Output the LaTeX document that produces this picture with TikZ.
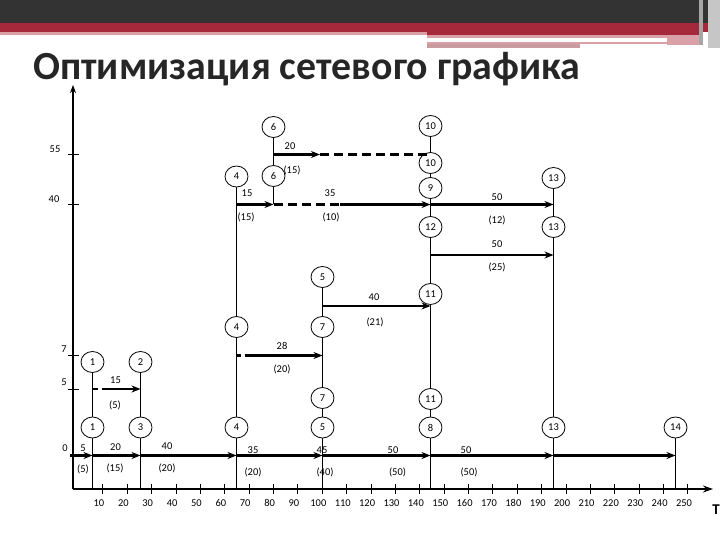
\documentclass[tikz,border=0pt]{standalone}
\usepackage{fontspec}
\setmainfont{Carlito}
\usetikzlibrary{arrows.meta,shapes.geometric}
\definecolor{hdark}{HTML}{333333}
\definecolor{hred}{HTML}{A5293A}
\definecolor{hpink}{HTML}{D9A0A7}
\definecolor{hpinkb}{HTML}{C99AA0}
\definecolor{titlec}{HTML}{262626}
\begin{document}
\begin{tikzpicture}[x=1bp,y=-1bp,
  ev/.style={draw, line width=0.8pt, ellipse, minimum width=23bp, minimum height=21bp, inner sep=0pt, font=\fontsize{10.5}{10.5}\selectfont},
  vline/.style={line width=1bp},
  act/.style={line width=2.6bp, -{Stealth[length=9bp,width=7bp]}},
  dsh/.style={line width=2.6bp, dash pattern=on 9bp off 5bp},
  lab/.style={font=\fontsize{10.5}{10.5}\selectfont, inner sep=0pt},
  tk/.style={line width=1bp}
]
\useasboundingbox (0,0) rectangle (720,540);
% header
\fill[white] (0,0) rectangle (720,540);
\fill[hdark] (0,0) rectangle (720,23);
\fill[hred] (0,23) rectangle (720,32);
\fill[hpink] (0,32) rectangle (427,35);
\fill[hred] (427,32) rectangle (703,35);
\fill[hpink] (427,35) rectangle (703,38);
\fill[hpink] (427,42) rectangle (667,44);
\fill[hpinkb] (427,44) rectangle (580,48);
\fill[hpink] (667,35) rectangle (703,45);
\fill[gray!70] (699,0) rectangle (703,45);
\fill[gray!45] (708,0) rectangle (720,48);
\node[anchor=base west, font=\fontsize{40}{40}\selectfont\bfseries, text=titlec, inner sep=0pt] (title) at (33,80) {Оптимизация сетевого графика};

% axes
\coordinate (o) at (73,489);
\coordinate (yt) at (73,85);
\coordinate (xt) at (713,489);
\draw[line width=2.7bp, -{Stealth[length=8bp,width=6bp]}] (o) -- (yt);
\draw[line width=1.8bp, -{Stealth[length=10bp,width=7bp]}] (o) -- (xt);
\node[font=\fontsize{15}{15}\selectfont\bfseries, inner sep=0pt] (T) at (716,510) {T};
\foreach \k in {1,...,25}{
  \pgfmathtruncatemacro{\v}{10*\k}
  \draw[tk] ({78.5+24.375*\k},484) -- ({78.5+24.375*\k},494);
  \node[lab] (tx\k) at ({74.6+24.375*\k},503) {\v};
}
\coordinate (y55) at (73,154.5);
\coordinate (y40) at (73,204.5);
\coordinate (y7) at (73,355.5);
\coordinate (y5) at (73,389);
\coordinate (y0) at (73,455.5);
\coordinate (y21) at (73,306);
\coordinate (y25) at (73,255);
\foreach \c in {y55,y40,y7,y5}{ \draw[tk] ([xshift=-5bp]\c) -- ([xshift=6bp]\c); }
\node[lab] (t55) at (55,149) {55};
\node[lab] (t40) at (54,199) {40};
\node[lab] (t7) at (64,349) {7};
\node[lab] (t5) at (64,382) {5};
\node[lab] (t0) at (65,448) {0};

% events
\node[ev] (n1a) at (92.5,362) {1};
\node[ev] (n2) at (140.5,362) {2};
\node[ev] (n1b) at (92.5,427.5) {1};
\node[ev] (n3) at (140.5,427.5) {3};
\node[ev] (n4a) at (236.5,176.5) {4};
\node[ev] (n4b) at (236.5,327) {4};
\node[ev] (n4c) at (236.5,427.5) {4};
\node[ev] (n6a) at (273.5,127) {6};
\node[ev] (n6b) at (273.5,176) {6};
\node[ev] (n5a) at (322.5,277) {5};
\node[ev] (n7a) at (322.5,327) {7};
\node[ev] (n7b) at (322.5,398) {7};
\node[ev] (n5b) at (322.5,427.5) {5};
\node[ev] (n10a) at (430.5,126) {10};
\node[ev] (n10b) at (430.5,163) {10};
\node[ev] (n9) at (430.5,188) {9};
\node[ev] (n12) at (430.5,227) {12};
\node[ev] (n11a) at (430.5,294) {11};
\node[ev] (n11b) at (430.5,399) {11};
\node[ev] (n8) at (430.5,427.5) {8};
\node[ev] (n13a) at (553.5,178) {13};
\node[ev] (n13b) at (553.5,227) {13};
\node[ev] (n13c) at (553.5,427.5) {13};
\node[ev] (n14) at (675.5,427.5) {14};

% columns
\draw[vline] (n1a) -- (n1b) -- (n1b |- o);
\draw[vline] (n2) -- (n3) -- (n3 |- o);
\draw[vline] (n4a) -- (n4b) -- (n4c) -- (n4c |- o);
\draw[vline] (n6a) -- (n6b) -- (n6b |- y40);
\draw[vline] (n5a) -- (n7a) -- (n7b) -- (n5b) -- (n5b |- o);
\draw[vline] (n10a) -- (n10b) -- (n9) -- (n12) -- (n11a) -- (n11b) -- (n8) -- (n8 |- o);
\draw[vline] (n13a) -- (n13b) -- (n13c) -- (n13c |- o);
\draw[vline] (n14) -- (n14 |- o);

% main row
\coordinate (m0) at (70,455.5);
\draw[act] (m0) -- (n1b |- y0);
\draw[act] (n1b |- y0) -- (n3 |- y0);
\draw[act] (n3 |- y0) -- (n4c |- y0);
\draw[act] (n4c |- y0) -- (n5b |- y0);
\draw[act] (n5b |- y0) -- (n8 |- y0);
\draw[act] (n8 |- y0) -- (n13c |- y0);
\draw[act] (n13c |- y0) -- (n14 |- y0);
% row 5
\coordinate (d5) at (104,389);
\draw[dsh, dash pattern=on 5bp off 4bp] (n1b |- y5) -- (d5);
\draw[act] (d5) -- (n3 |- y5);
% row 7
\coordinate (d7) at (248,355.5);
\draw[dsh, dash pattern=on 4bp off 4bp] (n4b |- y7) -- (d7);
\draw[act] (d7) -- (n7a |- y7);
% row 21
\draw[act] (n7a |- y21) -- (n11a |- y21);
% row 25
\draw[act] (n12 |- y25) -- (n13b |- y25);
% row 40
\coordinate (d40) at (340,204.5);
\draw[act] (n4a |- y40) -- (n6b |- y40);
\draw[dsh] (n6b |- y40) -- (d40);
\draw[act] (d40) -- (n9 |- y40);
\draw[act] (n9 |- y40) -- (n13b |- y40);
% row 55
\coordinate (d55) at (320,154.5);
\coordinate (e55) at (427,154.5);
\draw[act] (n6a |- y55) -- (d55);
\draw[dsh] (d55) -- (e55);

% labels
\node[lab] (a1) at (83,448) {5};
\node[lab] (a2) at (83,469) {(5)};
\node[lab] (a3) at (115.5,447) {20};
\node[lab] (a4) at (115,468) {(15)};
\node[lab] (a5) at (167,446) {40};
\node[lab] (a6) at (167,468) {(20)};
\node[lab] (a7) at (253,450) {35};
\node[lab] (a8) at (253,472) {(20)};
\node[lab] (a9) at (322,450) {45};
\node[lab] (a10) at (325,472.5) {(40)};
\node[lab] (a11) at (393,450) {50};
\node[lab] (a12) at (397.5,472) {(50)};
\node[lab] (a13) at (466,450) {50};
\node[lab] (a14) at (469,472) {(50)};
\node[lab] (b1) at (115.5,380.5) {15};
\node[lab] (b2) at (115,405) {(5)};
\node[lab] (b3) at (282,346) {28};
\node[lab] (b4) at (282,369.5) {(20)};
\node[lab] (b5) at (374,297) {40};
\node[lab] (b6) at (375,322) {(21)};
\node[lab] (b7) at (497,244) {50};
\node[lab] (b8) at (497,267.5) {(25)};
\node[lab] (c1) at (247,193.5) {15};
\node[lab] (c2) at (246,217) {(15)};
\node[lab] (c3) at (330,193) {35};
\node[lab] (c4) at (331,217) {(10)};
\node[lab] (c5) at (497,197) {50};
\node[lab] (c6) at (497,220) {(12)};
\node[lab] (c7) at (290,146.5) {20};
\node[lab] (c8) at (292,170) {(15)};
\end{tikzpicture}
\end{document}
